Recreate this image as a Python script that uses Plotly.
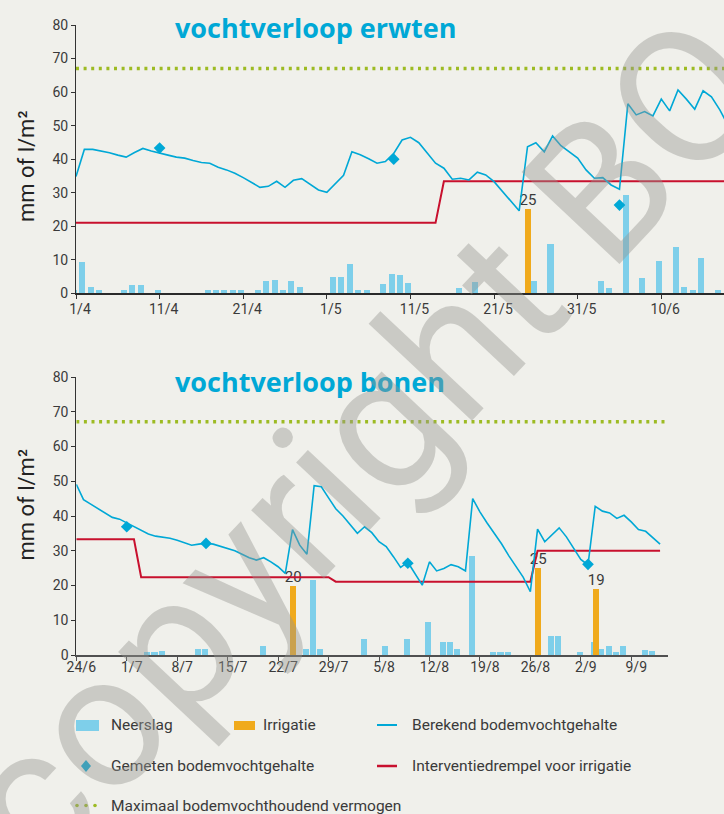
import plotly.graph_objects as go

W, H = 724, 814

# ---------------- data: vochtverloop erwten (day 0 = 1/4) ----------------
erwten_tick_days = [0, 10, 20, 30, 40, 50, 60, 70]
erwten_tick_labels = ["1/4", "11/4", "21/4", "1/5", "11/5", "21/5", "31/5", "10/6"]
erwten_calc_day = list(range(0, 79))
erwten_calc = [34.8, 42.9, 42.9, 42.5, 41.9, 41.2, 40.6, 42.0, 43.2, 42.4,
               41.9, 41.2, 40.6, 40.3, 39.6, 39.0, 38.8, 37.6, 36.8, 35.8,
               34.5, 33.1, 31.6, 31.9, 33.4, 31.6, 33.7, 34.2, 32.4, 30.8,
               30.1, 32.7, 35.2, 42.2, 41.3, 40.1, 38.8, 39.3, 41.7, 45.7,
               46.5, 44.9, 41.7, 38.8, 37.3, 34.0, 34.3, 33.8, 36.1, 35.3,
               33.3, 30.3, 27.3, 24.6, 43.7, 44.9, 42.2, 46.9, 44.0, 42.2,
               40.3, 36.8, 34.3, 34.5, 32.3, 31.0, 56.5, 53.2, 54.2, 52.9,
               57.9, 54.4, 60.6, 57.9, 54.9, 60.4, 58.6, 54.7, 50.0]
erwten_meas_day = [10, 38, 65]
erwten_meas = [43.3, 40.0, 26.3]
erwten_thr_day = [0, 43, 44, 78]
erwten_thr = [21.0, 21.0, 33.4, 33.4]
erwten_max = 67.0
erwten_rain_day = [0, 1, 2, 3, 6, 7, 8, 10, 16, 17, 18, 19, 20, 22, 23, 24, 25, 26, 27,
                   31, 32, 33, 34, 35, 37, 38, 39, 40, 46, 48, 55, 57, 63, 64, 66, 68,
                   70, 72, 73, 74, 75, 77]
erwten_rain = [1.0, 9.2, 1.8, 1.0, 1.0, 2.5, 2.5, 1.0, 1.0, 1.0, 1.0, 1.0, 1.0, 1.0, 3.7, 4.0, 1.0, 3.7, 2.0,
               4.8, 4.8, 8.7, 1.0, 1.0, 2.7, 5.8, 5.4, 3.0, 1.5, 3.5, 3.7, 14.6, 3.7, 1.5, 29.3, 4.7,
               9.6, 13.7, 2.0, 1.0, 10.4, 1.0]
erwten_irr_day = [54]
erwten_irr = [25]
erwten_xrange = [0, 77.5]

# ---------------- data: vochtverloop bonen (day 0 = 24/6) ----------------
bonen_tick_days = [0, 7, 14, 21, 28, 35, 42, 49, 56, 63, 70, 77]
bonen_tick_labels = ["24/6", "1/7", "8/7", "15/7", "22/7", "29/7", "5/8", "12/8",
                     "19/8", "26/8", "2/9", "9/9"]
bonen_calc_day = list(range(0, 82))
bonen_calc = [49.1, 44.7, 43.4, 42.2, 41.0, 39.6, 39.1, 38.0, 36.8, 35.8,
              34.8, 34.2, 34.0, 33.6, 33.0, 32.2, 31.6, 31.9, 32.2, 31.9,
              31.3, 30.7, 30.0, 29.0, 28.0, 27.3, 28.0, 26.8, 25.4, 23.5,
              36.1, 31.6, 29.0, 48.7, 48.4, 45.2, 42.1, 40.0, 37.6, 35.0,
              36.9, 35.2, 32.6, 31.2, 28.3, 25.2, 26.7, 23.5, 20.1, 26.8,
              24.2, 24.9, 26.0, 25.4, 24.2, 45.0, 41.2, 38.0, 35.0, 32.0,
              28.6, 25.6, 22.4, 18.2, 36.2, 32.6, 34.5, 36.6, 34.0, 30.6,
              27.5, 25.9, 42.8, 41.4, 40.9, 39.3, 40.2, 38.3, 36.1, 35.6,
              33.7, 31.9]
bonen_meas_day = [7, 18, 46, 71]
bonen_meas = [36.9, 32.1, 26.4, 26.1]
bonen_thr_day = [0, 8, 9, 35, 36, 63, 64, 81]
bonen_thr = [33.3, 33.3, 22.4, 22.4, 21.1, 21.1, 30.0, 30.0]
bonen_max = 67.1
bonen_rain_day = [10, 11, 12, 17, 18, 26, 32, 33, 34, 40, 43, 46, 49, 51, 52, 53, 55,
                  58, 59, 60, 66, 67, 70, 72, 73, 74, 75, 76, 79, 80]
bonen_rain = [0.8, 0.8, 1.1, 1.7, 1.7, 2.7, 1.6, 21.6, 1.6, 4.6, 2.6, 4.6, 9.6, 3.6, 3.6, 1.6, 28.5,
              0.8, 0.8, 0.8, 5.5, 5.5, 0.8, 3.6, 1.6, 2.6, 0.8, 2.6, 1.4, 1.2]
bonen_irr_day = [30, 64, 72]
bonen_irr = [20, 25, 19]
bonen_xrange = [0, 82.1]

# ---------------- legend labels ----------------
lbl_rain = "Neerslag"
lbl_irr = "Irrigatie"
lbl_calc = "Berekend bodemvochtgehalte"
lbl_meas = "Gemeten bodemvochtgehalte"
lbl_thr = "Interventiedrempel voor irrigatie"
lbl_max = "Maximaal bodemvochthoudend vermogen"
watermark = "copyright BO"

# ---------------- styles ----------------
BG = "#f0f0eb"
C_RAIN = "#7ecfea"
C_IRR = "#f0aa1c"
C_LINE = "#00a8d6"
C_RED = "#c8102e"
C_GREEN = "#9dbb23"
C_TXT = "#3a3a3a"
FONT = "Roboto"


def px(x):
    return x / W


def py(y):
    return 1 - y / H


fig = go.Figure()


def add_panel(xa, ya, rain_day, rain, irr_day, irr, calc_day, calc, thr_day, thr,
              meas_day, meas, maxv, xr, rain_w, rain_off, irr_w, irr_off):
    fig.add_trace(go.Bar(x=rain_day, y=rain, width=rain_w, offset=rain_off,
                         marker=dict(color=C_RAIN, line=dict(width=0)),
                         xaxis=xa, yaxis=ya, showlegend=False))
    fig.add_trace(go.Bar(x=irr_day, y=irr, width=irr_w, offset=irr_off,
                         marker=dict(color=C_IRR, line=dict(width=0)),
                         text=[str(v) for v in irr], textposition="outside",
                         constraintext="none",
                         textfont=dict(family=FONT, size=15, color=C_TXT),
                         cliponaxis=False, xaxis=xa, yaxis=ya, showlegend=False))
    fig.add_trace(go.Scatter(x=[xr[0], xr[1]], y=[maxv, maxv], mode="lines",
                             line=dict(color=C_GREEN, width=3.5, dash="3px,4.6px"),
                             xaxis=xa, yaxis=ya, showlegend=False))
    fig.add_trace(go.Scatter(x=thr_day, y=thr, mode="lines",
                             line=dict(color=C_RED, width=2),
                             xaxis=xa, yaxis=ya, showlegend=False))
    fig.add_trace(go.Scatter(x=calc_day, y=calc, mode="lines",
                             line=dict(color=C_LINE, width=1.6),
                             xaxis=xa, yaxis=ya, showlegend=False))
    fig.add_trace(go.Scatter(x=meas_day, y=meas, mode="markers",
                             marker=dict(symbol="diamond", size=9, color=C_LINE),
                             xaxis=xa, yaxis=ya, showlegend=False))


add_panel("x", "y", erwten_rain_day, erwten_rain, erwten_irr_day, erwten_irr,
          erwten_calc_day, erwten_calc, erwten_thr_day, erwten_thr,
          erwten_meas_day, erwten_meas, erwten_max, erwten_xrange,
          0.72, -0.61, 0.72, -0.26)
add_panel("x2", "y2", bonen_rain_day, bonen_rain, bonen_irr_day, bonen_irr,
          bonen_calc_day, bonen_calc, bonen_thr_day, bonen_thr,
          bonen_meas_day, bonen_meas, bonen_max, bonen_xrange,
          0.85, -0.525, 0.8, -0.3)

tickfont = dict(family=FONT, size=14, color=C_TXT)
yax = dict(range=[0, 80], dtick=10, showline=True, linecolor="#333", linewidth=1,
           ticks="outside", ticklen=4, tickcolor="#333", showgrid=False,
           zeroline=False, tickfont=tickfont, fixedrange=True, automargin=False)

fig.update_layout(
    width=W, height=H,
    margin=dict(l=0, r=0, t=0, b=0, pad=0, autoexpand=False),
    paper_bgcolor=BG, plot_bgcolor=BG,
    barmode="overlay", bargap=0,
    showlegend=False,
    xaxis=dict(domain=[px(76), 1.0], range=erwten_xrange, anchor="y",
               tickvals=erwten_tick_days, ticktext=erwten_tick_labels,
               showline=True, linecolor="#2a2a2a", linewidth=1.8, ticks="outside",
               ticklen=4, tickcolor="#333", showgrid=False, zeroline=False,
               tickfont=tickfont, ticklabelstandoff=-2, ticklabelshift=4,
               automargin=False),
    yaxis=dict(domain=[py(293.3), py(25)], anchor="x", **yax),
    xaxis2=dict(domain=[px(76.3), px(668)], range=bonen_xrange, anchor="y2",
                tickvals=bonen_tick_days, ticktext=bonen_tick_labels,
                showline=True, linecolor="#505050", linewidth=2.4, ticks="outside",
                ticklen=4, tickcolor="#505050", showgrid=False, zeroline=False,
                tickfont=tickfont, ticklabelstandoff=-6, ticklabelshift=5,
                automargin=False),
    yaxis2=dict(domain=[py(655), py(377)], anchor="x2", **yax),
)

ann = []
# titles
TFONT = dict(family="Open Sans", size=27, color=C_LINE)
ann.append(dict(text="<b>vochtverloop erwten</b>", x=px(173), y=py(28), xref="paper", yref="paper",
                xanchor="left", yanchor="middle", showarrow=False, font=TFONT))
ann.append(dict(text="<b>vochtverloop bonen</b>", x=px(173), y=py(381.5), xref="paper", yref="paper",
                xanchor="left", yanchor="middle", showarrow=False, font=TFONT))
# y-axis titles
for yc in (167, 505.5):
    ann.append(dict(text="mm of l/m²", x=px(26), y=py(yc), xref="paper", yref="paper",
                    xanchor="center", yanchor="middle", textangle=-90, showarrow=False,
                    font=dict(family=FONT, size=22, color="#222")))

# legend texts
leg_font = dict(family=FONT, size=15.5, color=C_TXT)
for txt, x, y in [(lbl_rain, 108.5, 725), (lbl_irr, 261, 725), (lbl_calc, 409.5, 725),
                  (lbl_meas, 108.5, 766), (lbl_thr, 409.5, 766), (lbl_max, 108.5, 805.5)]:
    ann.append(dict(text=txt, x=px(x), y=py(y), xref="paper", yref="paper",
                    xanchor="left", yanchor="middle", showarrow=False, font=leg_font))

# watermark
ann.append(dict(text=watermark, x=px(362), y=py(443), xref="paper", yref="paper",
                xanchor="center", yanchor="middle", textangle=-46.8, showarrow=False,
                font=dict(family=FONT, size=189, color="rgba(150,150,145,0.42)")))

shapes = []
# legend swatches
shapes.append(dict(type="rect", xref="paper", yref="paper", x0=px(76), x1=px(99),
                   y0=py(731), y1=py(720), fillcolor=C_RAIN, line=dict(width=0)))
shapes.append(dict(type="rect", xref="paper", yref="paper", x0=px(234), x1=px(255),
                   y0=py(730), y1=py(721), fillcolor=C_IRR, line=dict(width=0)))
shapes.append(dict(type="line", xref="paper", yref="paper", x0=px(377), x1=px(397),
                   y0=py(725), y1=py(725), line=dict(color=C_LINE, width=2)))
shapes.append(dict(type="line", xref="paper", yref="paper", x0=px(377), x1=px(397),
                   y0=py(766), y1=py(766), line=dict(color=C_RED, width=2.5)))
dx, dy, cx, cy = 5, 6, 86, 766
shapes.append(dict(type="path", xref="paper", yref="paper",
                   path=f"M {px(cx)} {py(cy-dy)} L {px(cx+dx)} {py(cy)} L {px(cx)} {py(cy+dy)} L {px(cx-dx)} {py(cy)} Z",
                   fillcolor=C_LINE, line=dict(width=0)))
for dxp in (77, 86, 95):
    shapes.append(dict(type="circle", xref="paper", yref="paper",
                       x0=px(dxp - 1.8), x1=px(dxp + 1.8), y0=py(805.5 + 1.8), y1=py(805.5 - 1.8),
                       fillcolor=C_GREEN, line=dict(width=0)))

fig.update_layout(annotations=ann, shapes=shapes)

post_js = (
    "document.documentElement.style.margin='0';"
    "document.documentElement.style.overflow='hidden';"
    "document.body.style.margin='0';"
    "document.body.style.overflow='hidden';"
    "var gd=document.getElementById('{plot_id}');"
    "gd.style.overflow='hidden';"
    "if(gd.parentElement){gd.parentElement.style.overflow='hidden';"
    "gd.parentElement.style.width='724px';gd.parentElement.style.height='814px';}"
    "gd.querySelectorAll('.svg-container, .main-svg').forEach(function(e){e.style.overflow='hidden';});"
)
fig.write_html("out.html", post_script=post_js, config={"displayModeBar": False})
